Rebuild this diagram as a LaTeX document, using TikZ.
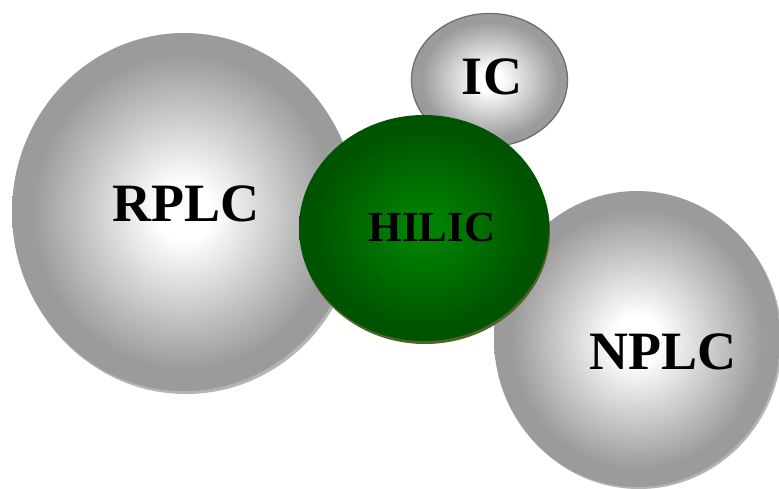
\documentclass[tikz,border=0pt]{standalone}
\usepackage{fontspec}
\setmainfont{Liberation Serif}
\usetikzlibrary{shapes.geometric}
\definecolor{ballgray}{HTML}{9B9B9B}
\definecolor{shadegray}{HTML}{B4B4B4}
\definecolor{greenin}{HTML}{008200}
\definecolor{greenout}{HTML}{005400}
\definecolor{olive}{HTML}{4F6228}
\definecolor{icborder}{HTML}{6E6E6E}
\pgfdeclareradialshading{grayball}{\pgfpoint{0bp}{0bp}}{color(0bp)=(white); color(4bp)=(white); color(22bp)=(ballgray); color(25bp)=(ballgray); color(50bp)=(ballgray)}
\pgfdeclareradialshading{greenball}{\pgfpoint{0bp}{0bp}}{color(0bp)=(greenin); color(3bp)=(greenin); color(22bp)=(greenout); color(25bp)=(greenout); color(50bp)=(greenout)}
\tikzset{
  ball/.style={ellipse, inner sep=0pt, shading=grayball, draw=none},
  greenb/.style={ellipse, inner sep=0pt, shading=greenball, draw=none},
  shadowb/.style={ellipse, inner sep=0pt, fill=shadegray, draw=none},
  lbl/.style={font=\bfseries\fontsize{54}{60}\selectfont, inner sep=0pt, text=black},
  lblsmall/.style={font=\bfseries\fontsize{43}{48}\selectfont, inner sep=0pt, text=black}
}
\begin{document}
\begin{tikzpicture}[x=1pt,y=-1pt]
\useasboundingbox (0,0) rectangle (779,488);
% RPLC
\node[shadowb, minimum width=344pt, minimum height=358pt] (rplcs) at (186,215) {};
\node[ball, minimum width=344pt, minimum height=358pt] (rplc) at (184,212) {};
% IC
\node[ball, draw=icborder, line width=1.3pt, minimum width=156pt, minimum height=133pt] (ic) at (489.5,80) {};
% NPLC
\node[shadowb, minimum width=286pt, minimum height=296pt] (nplcs) at (639,341) {};
\node[ball, minimum width=286pt, minimum height=296pt] (nplc) at (637,339) {};
% HILIC
\node[ellipse, inner sep=0pt, fill=olive, minimum width=250pt, minimum height=226pt] (hilics) at (425,231) {};
\node[greenb, minimum width=250pt, minimum height=226pt] (hilic) at (424,228) {};
% labels
\node[lbl] (trplc) at (186,204) {RPLC};
\node[lbl] (tic) at (492,77) {IC};
\node[lblsmall] (thilic) at (432,227) {HILIC};
\node[lbl] (tnplc) at (663,352) {NPLC};
\end{tikzpicture}
\end{document}
